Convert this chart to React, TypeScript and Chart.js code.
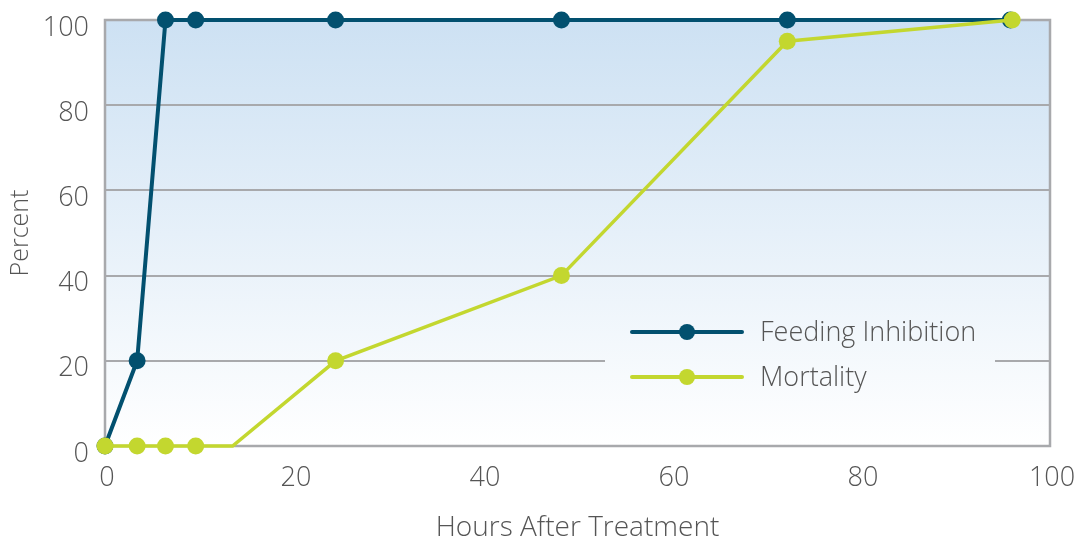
import React, { useEffect, useRef } from "react";
import { Chart, registerables } from "chart.js";

Chart.register(...registerables);

// Hours after treatment at which each observation was taken
const feedingHours = [0, 3.4, 6.4, 9.6, 24.4, 48.3, 72.2, 95.8];
const feedingPercent = [0, 20, 100, 100, 100, 100, 100, 100];

const mortalityHours = [0, 3.4, 6.4, 9.6, 13.5, 24.4, 48.3, 72.2, 96];
const mortalityPercent = [0, 0, 0, 0, 0, 20, 40, 95, 100];
// the bend at 13.5 h carries no marker
const mortalityMarked = [true, true, true, true, false, true, true, true, true];

const seriesNames = ["Feeding Inhibition", "Mortality"];
const xTitle = "Hours After Treatment";
const yTitle = "Percent";

const FEEDING_COLOR = "#02506f";
const MORTALITY_COLOR = "#c3d72f";
const GRID_COLOR = "#a8a9ac";
const TEXT_COLOR = "#555555";
const FONT = "'Open Sans', 'DejaVu Sans', sans-serif";
const WEIGHT = 300;
const MARKER_RADIUS = 8.5;

function plotGradient(chart: Chart) {
  const { ctx, chartArea } = chart;
  const g = ctx.createLinearGradient(0, chartArea.top, 0, chartArea.bottom);
  g.addColorStop(0, "rgb(205,225,243)");
  g.addColorStop(1, "rgb(255,255,255)");
  return g;
}

// legend panel position, relative to the plot area
const LEGEND_BOX = { left: 500, top: 282, width: 390, height: 110 };

const plotDecor = {
  id: "plotDecor",
  beforeDraw(chart: Chart) {
    const { ctx, chartArea } = chart;
    ctx.save();
    ctx.fillStyle = plotGradient(chart);
    ctx.fillRect(chartArea.left, chartArea.top, chartArea.right - chartArea.left, chartArea.bottom - chartArea.top);
    ctx.restore();
  },
  beforeDatasetsDraw(chart: Chart) {
    const { ctx, chartArea } = chart;
    ctx.save();
    // panel behind the legend hides the grid line
    ctx.fillStyle = plotGradient(chart);
    ctx.fillRect(chartArea.left + LEGEND_BOX.left, chartArea.top + LEGEND_BOX.top, LEGEND_BOX.width, LEGEND_BOX.height);
    // frame around the plot
    ctx.strokeStyle = GRID_COLOR;
    ctx.lineWidth = 2.5;
    ctx.strokeRect(chartArea.left, chartArea.top, chartArea.right - chartArea.left, chartArea.bottom - chartArea.top);
    ctx.restore();
  },
  afterDraw(chart: Chart) {
    const { ctx, chartArea } = chart;
    const x0 = chartArea.left + LEGEND_BOX.left + 27;
    const lineLen = 110;
    const rowY0 = chartArea.top + LEGEND_BOX.top + 30;
    const rowGap = 45;
    ctx.save();
    chart.data.datasets.forEach((ds: any, i: number) => {
      const y = rowY0 + i * rowGap;
      ctx.strokeStyle = ds.borderColor;
      ctx.lineWidth = 4;
      ctx.lineCap = "round";
      ctx.beginPath();
      ctx.moveTo(x0, y);
      ctx.lineTo(x0 + lineLen, y);
      ctx.stroke();
      ctx.fillStyle = ds.borderColor;
      ctx.beginPath();
      ctx.arc(x0 + lineLen / 2, y, 8, 0, Math.PI * 2);
      ctx.fill();
      ctx.fillStyle = TEXT_COLOR;
      ctx.font = `${WEIGHT} 27px ${FONT}`;
      ctx.textBaseline = "middle";
      ctx.textAlign = "left";
      ctx.fillText(ds.label, x0 + lineLen + 18, y + 1);
    });
    ctx.restore();
  },
};

export default function App() {
  const canvasRef = useRef<HTMLCanvasElement | null>(null);

  useEffect(() => {
    if (!canvasRef.current) return;
    const chart = new Chart(canvasRef.current, {
      type: "line",
      data: {
        datasets: [
          {
            label: seriesNames[0],
            data: feedingHours.map((h, i) => ({ x: h, y: feedingPercent[i] })),
            borderColor: FEEDING_COLOR,
            backgroundColor: FEEDING_COLOR,
            borderWidth: 4,
            pointRadius: MARKER_RADIUS,
            pointBorderWidth: 0,
            pointBackgroundColor: FEEDING_COLOR,
            tension: 0,
            clip: false,
            order: 2,
          },
          {
            label: seriesNames[1],
            data: mortalityHours.map((h, i) => ({ x: h, y: mortalityPercent[i] })),
            borderColor: MORTALITY_COLOR,
            backgroundColor: MORTALITY_COLOR,
            borderWidth: 3.5,
            pointRadius: mortalityMarked.map((m) => (m ? MARKER_RADIUS : 0)),
            pointBorderWidth: 0,
            pointBackgroundColor: MORTALITY_COLOR,
            tension: 0,
            clip: false,
            order: 1,
          },
        ],
      },
      options: {
        animation: false,
        responsive: true,
        maintainAspectRatio: false,
        layout: { padding: { left: 0, top: 20, right: 25, bottom: 0 } },
        plugins: {
          legend: { display: false },
          tooltip: { enabled: false },
        },
        scales: {
          x: {
            type: "linear",
            min: 0,
            max: 100,
            ticks: {
              stepSize: 20,
              color: TEXT_COLOR,
              font: { family: FONT, size: 27, weight: WEIGHT },
              padding: 16,
              labelOffset: 2,
            },
            grid: { display: false, drawTicks: false },
            border: { display: false },
            title: {
              display: true,
              text: xTitle,
              color: TEXT_COLOR,
              font: { family: FONT, size: 28, weight: WEIGHT, lineHeight: 1 },
              padding: { top: 0, bottom: 0 },
            },
            afterFit(scale: any) {
              scale.height = 96;
              scale.paddingLeft = 0;
              scale.paddingRight = 0;
            },
          },
          y: {
            type: "linear",
            min: 0,
            max: 100,
            ticks: {
              stepSize: 20,
              color: TEXT_COLOR,
              font: { family: FONT, size: 27, weight: WEIGHT },
              padding: 16,
              labelOffset: 8,
            },
            grid: {
              drawTicks: false,
              lineWidth: 2,
              color: (ctx: any) =>
                ctx.tick && (ctx.tick.value === 0 || ctx.tick.value === 100) ? "rgba(0,0,0,0)" : GRID_COLOR,
            },
            border: { display: false },
            title: {
              display: true,
              text: yTitle,
              color: TEXT_COLOR,
              font: { family: FONT, size: 25, weight: WEIGHT, lineHeight: 1 },
              padding: { top: 8, bottom: 0 },
            },
            afterFit(scale: any) {
              scale.width = 105;
              scale.paddingTop = 0;
              scale.paddingBottom = 0;
            },
          },
        },
      },
      plugins: [plotDecor],
    });
    return () => chart.destroy();
  }, []);

  return (
    <div style={{ position: "fixed", left: 0, top: 0, width: 1075, height: 542, background: "#ffffff" }}>
      <canvas ref={canvasRef} />
    </div>
  );
}
